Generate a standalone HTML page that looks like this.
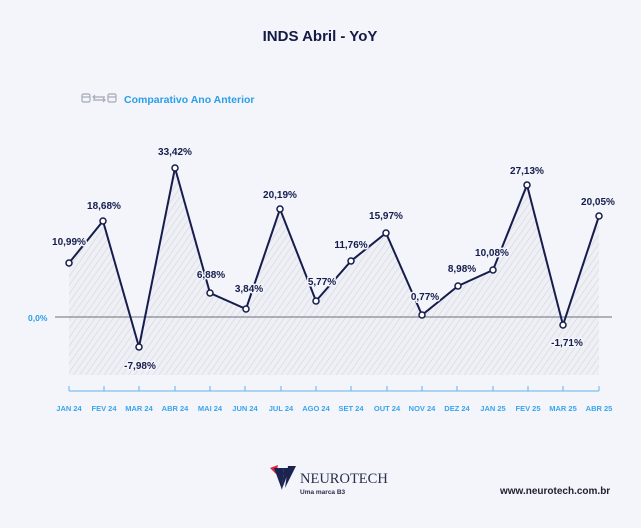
<!DOCTYPE html>
<html><head><meta charset="utf-8"><style>
html,body{margin:0;padding:0;background:#f3f5fa;}
svg{display:block;font-family:"Liberation Sans",sans-serif;}
</style></head><body>
<svg width="641" height="528" viewBox="0 0 641 528" xmlns="http://www.w3.org/2000/svg">
<defs>
<pattern id="h" width="5" height="5" patternUnits="userSpaceOnUse" patternTransform="rotate(35)">
<rect width="5" height="5" fill="#eef0f5"/>
<line x1="0" y1="0" x2="0" y2="5" stroke="#d0d3dc" stroke-width="1.1"/>
</pattern>
</defs>
<rect width="641" height="528" fill="#f3f5fa"/>
<text x="320" y="41" text-anchor="middle" font-size="15" font-weight="bold" fill="#141a45">INDS Abril - YoY</text>
<g fill="none" stroke="#a5a9b8" stroke-width="1.2">
<rect x="82" y="94" width="8" height="8" rx="1.5"/><line x1="82" y1="97" x2="90" y2="97"/>
<rect x="108" y="94" width="8" height="8" rx="1.5"/><line x1="108" y1="97" x2="116" y2="97"/>
<path d="M93 97h12M95 95l-2 2 2 2M93 100h12M103 98l2 2-2 2"/>
</g>
<text x="124" y="103" font-size="10.5" font-weight="bold" fill="#2a9ee8">Comparativo Ano Anterior</text>
<path d="M69 263 L103 221 L139 347 L175 168 L210 293 L246 309 L280 209 L316 301 L351 261 L386 233 L422 315 L458 286 L493 270 L527 185 L563 325 L599 216 L599 375 L69 375 Z" fill="url(#h)"/>
<line x1="55" y1="317" x2="612" y2="317" stroke="#6d707c" stroke-width="1"/>
<text x="28" y="321" font-size="8.5" font-weight="bold" fill="#2a9ee8">0,0%</text>
<polyline points="69,263 103,221 139,347 175,168 210,293 246,309 280,209 316,301 351,261 386,233 422,315 458,286 493,270 527,185 563,325 599,216" fill="none" stroke="#161c4c" stroke-width="2"/>
<g fill="#fff" stroke="#161c4c" stroke-width="1.5">
<circle cx="69" cy="263" r="3"/><circle cx="103" cy="221" r="3"/><circle cx="139" cy="347" r="3"/><circle cx="175" cy="168" r="3"/><circle cx="210" cy="293" r="3"/><circle cx="246" cy="309" r="3"/><circle cx="280" cy="209" r="3"/><circle cx="316" cy="301" r="3"/><circle cx="351" cy="261" r="3"/><circle cx="386" cy="233" r="3"/><circle cx="422" cy="315" r="3"/><circle cx="458" cy="286" r="3"/><circle cx="493" cy="270" r="3"/><circle cx="527" cy="185" r="3"/><circle cx="563" cy="325" r="3"/><circle cx="599" cy="216" r="3"/>
</g>
<g font-size="10" font-weight="bold" fill="#161c4c" text-anchor="middle" stroke="#f3f5fa" stroke-width="3" paint-order="stroke" stroke-linejoin="round">
<text x="69" y="245">10,99%</text><text x="104" y="209">18,68%</text><text x="140" y="369">-7,98%</text><text x="175" y="155">33,42%</text><text x="211" y="278">6,88%</text><text x="249" y="292">3,84%</text><text x="280" y="198">20,19%</text><text x="322" y="285">5,77%</text><text x="351" y="248">11,76%</text><text x="386" y="219">15,97%</text><text x="425" y="300">0,77%</text><text x="462" y="272">8,98%</text><text x="492" y="256">10,08%</text><text x="527" y="174">27,13%</text><text x="567" y="346">-1,71%</text><text x="598" y="205">20,05%</text>
</g>
<line x1="69" y1="391" x2="599" y2="391" stroke="#5fb4ec" stroke-width="1"/>
<g stroke="#5fb4ec" stroke-width="1">
<line x1="69" y1="386" x2="69" y2="391"/><line x1="104" y1="386" x2="104" y2="391"/><line x1="139" y1="386" x2="139" y2="391"/><line x1="175" y1="386" x2="175" y2="391"/><line x1="210" y1="386" x2="210" y2="391"/><line x1="245" y1="386" x2="245" y2="391"/><line x1="281" y1="386" x2="281" y2="391"/><line x1="316" y1="386" x2="316" y2="391"/><line x1="351" y1="386" x2="351" y2="391"/><line x1="387" y1="386" x2="387" y2="391"/><line x1="422" y1="386" x2="422" y2="391"/><line x1="457" y1="386" x2="457" y2="391"/><line x1="493" y1="386" x2="493" y2="391"/><line x1="528" y1="386" x2="528" y2="391"/><line x1="563" y1="386" x2="563" y2="391"/><line x1="599" y1="386" x2="599" y2="391"/>
</g>
<g font-size="7.5" font-weight="bold" fill="#3aa5ec" text-anchor="middle">
<text x="69" y="411">JAN 24</text><text x="104" y="411">FEV 24</text><text x="139" y="411">MAR 24</text><text x="175" y="411">ABR 24</text><text x="210" y="411">MAI 24</text><text x="245" y="411">JUN 24</text><text x="281" y="411">JUL 24</text><text x="316" y="411">AGO 24</text><text x="351" y="411">SET 24</text><text x="387" y="411">OUT 24</text><text x="422" y="411">NOV 24</text><text x="457" y="411">DEZ 24</text><text x="493" y="411">JAN 25</text><text x="528" y="411">FEV 25</text><text x="563" y="411">MAR 25</text><text x="599" y="411">ABR 25</text>
</g>
<g>
<path d="M270 468 L278 465 L276 474 Z" fill="#d8263a"/>
<path d="M274 468 L282 490 L284 468 Z" fill="#1b2450"/>
<path d="M284 468 L290 468 L282 489 Z" fill="#1b2450"/>
<path d="M288 466 L296 466 L285 488 Z" fill="#1b2450"/>
</g>
<text x="300" y="483" font-size="14.5" fill="#2a2f4a" font-family="Liberation Serif,serif">NEUROTECH</text>
<text x="300" y="494" font-size="6.5" font-weight="bold" fill="#2a2f4a">Uma marca B3</text>
<text x="500" y="494" font-size="10" font-weight="bold" fill="#1d2030">www.neurotech.com.br</text>
</svg>
</body></html>
